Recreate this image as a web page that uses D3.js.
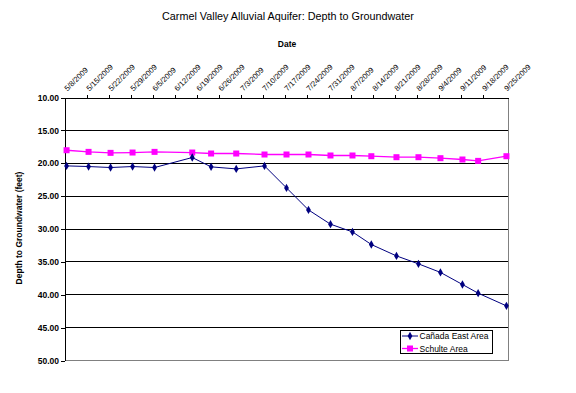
<!DOCTYPE html>
<html>
<head>
<meta charset="utf-8">
<script src="https://cdn.jsdelivr.net/npm/d3@7"></script>
<style>
  html, body { margin: 0; padding: 0; background: #fff; }
  svg { display: block; font-family: "Liberation Sans", Arial, sans-serif; }
</style>
</head>
<body>
<svg id="chart" width="576" height="393"></svg>
<script>
const dates = ["2009-05-08","2009-05-15","2009-05-22","2009-05-29","2009-06-05","2009-06-17","2009-06-23","2009-07-01","2009-07-10","2009-07-17","2009-07-24","2009-07-31","2009-08-07","2009-08-13","2009-08-21","2009-08-28","2009-09-04","2009-09-11","2009-09-16","2009-09-25"];
const canadaEast = [20.40,20.50,20.65,20.50,20.65,19.13,20.55,20.86,20.40,23.75,27.10,29.27,30.44,32.36,34.09,35.30,36.60,38.44,39.76,41.69];
const schulte = [18.02,18.27,18.42,18.37,18.27,18.37,18.52,18.52,18.67,18.67,18.67,18.82,18.82,18.93,19.08,19.08,19.23,19.43,19.64,18.93];
const tickDates = ["2009-05-08","2009-05-15","2009-05-22","2009-05-29","2009-06-05","2009-06-12","2009-06-19","2009-06-26","2009-07-03","2009-07-10","2009-07-17","2009-07-24","2009-07-31","2009-08-07","2009-08-14","2009-08-21","2009-08-28","2009-09-04","2009-09-11","2009-09-18","2009-09-25"];
const yTicks = [10,15,20,25,30,35,40,45,50];
const seriesNames = ["Cañada East Area","Schulte Area"];

const parse = d3.utcParse("%Y-%m-%d");
const fmt = d => (d.getUTCMonth()+1) + "/" + d.getUTCDate() + "/" + d.getUTCFullYear();
const half = 12*3600*1000;

const L = 65, R = 508, T = 97.5, B = 360.5;
const x = d3.scaleUtc().domain([parse("2009-05-08"), parse("2009-09-26")]).range([L, R]);
const y = d3.scaleLinear().domain([10, 50]).range([T, B]);

const svg = d3.select("#chart");

// title
svg.append("text").attr("x", 288).attr("y", 20).attr("text-anchor", "middle")
  .attr("font-size", 10.8).attr("fill", "#000")
  .text("Carmel Valley Alluvial Aquifer: Depth to Groundwater");
svg.append("text").attr("x", 287).attr("y", 47).attr("text-anchor", "middle")
  .attr("font-size", 8.5).attr("font-weight", "bold").attr("fill", "#000").text("Date");

// gridlines
svg.append("g").selectAll("line").data(yTicks.filter(v => v > 10 && v < 50)).join("line")
  .attr("x1", L).attr("x2", R).attr("y1", d => y(d)).attr("y2", d => y(d))
  .attr("stroke", "#000").attr("stroke-width", 1).attr("shape-rendering", "crispEdges");

// plot border right/bottom
svg.append("line").attr("x1", R).attr("x2", R).attr("y1", T).attr("y2", B)
  .attr("stroke", "#808080").attr("shape-rendering", "crispEdges");
svg.append("line").attr("x1", L).attr("x2", R).attr("y1", B).attr("y2", B)
  .attr("stroke", "#808080").attr("shape-rendering", "crispEdges");

// y axis
const yAxis = svg.append("g").attr("transform", `translate(${L},0)`)
  .call(d3.axisLeft(y).tickValues(yTicks).tickFormat(d3.format(".2f")).tickSize(4).tickSizeOuter(0));
yAxis.select(".domain").attr("stroke", "#000").attr("shape-rendering", "crispEdges");
yAxis.selectAll(".tick line").attr("stroke", "#000").attr("shape-rendering", "crispEdges");
yAxis.selectAll(".tick text").attr("font-size", 8.5).attr("font-weight", "bold")
  .attr("font-family", "Liberation Sans, Arial, sans-serif").attr("fill", "#000").attr("x", -6);

// x axis (top)
const tds = tickDates.map(parse);
const xAxis = svg.append("g").attr("transform", `translate(0,${T})`)
  .call(d3.axisTop(x).tickValues(tds).tickFormat(fmt).tickSize(3).tickSizeOuter(0));
xAxis.select(".domain").attr("stroke", "#000").attr("shape-rendering", "crispEdges");
xAxis.selectAll(".tick line").attr("stroke", "#000").attr("shape-rendering", "crispEdges")
  .attr("opacity", (d, i) => (i === 0 || i === tds.length - 1) ? 0 : 1);
xAxis.selectAll(".tick text")
  .attr("font-size", 7.6).attr("font-family", "Liberation Sans, Arial, sans-serif").attr("fill", "#000")
  .attr("text-anchor", "start").attr("x", 0).attr("y", 0).attr("dy", 0)
  .attr("transform", "translate(2,-6) rotate(-45)");

// y axis title
svg.append("text").attr("transform", "translate(22,228) rotate(-90)").attr("text-anchor", "middle")
  .attr("font-size", 8.5).attr("font-weight", "bold").attr("fill", "#000")
  .text("Depth to Groundwater (feet)");

const px = d => x(new Date(parse(d).getTime() + half));
const line = d3.line().x(d => px(d.date)).y(d => y(d.v));

const ce = dates.map((d, i) => ({date: d, v: canadaEast[i]}));
const sc = dates.map((d, i) => ({date: d, v: schulte[i]}));

const navy = "#000080", mag = "#FF00FF";

svg.append("path").datum(sc).attr("d", line).attr("fill", "none").attr("stroke", mag).attr("stroke-width", 1.3);
svg.append("g").selectAll("rect").data(sc).join("rect")
  .attr("x", d => px(d.date) - 3).attr("y", d => y(d.v) - 3).attr("width", 6).attr("height", 6).attr("fill", mag);

svg.append("path").datum(ce).attr("d", line).attr("fill", "none").attr("stroke", navy).attr("stroke-width", 1);
const diamond = d3.symbol().type(d3.symbolDiamond).size(20);
svg.append("g").selectAll("path").data(ce).join("path")
  .attr("transform", d => `translate(${px(d.date)},${y(d.v)})`).attr("d", diamond).attr("fill", navy);

// legend
const lg = svg.append("g");
lg.append("rect").attr("x", 400.5).attr("y", 330.5).attr("width", 92).attr("height", 23)
  .attr("fill", "#fff").attr("stroke", "#000").attr("stroke-width", 1);
const items = [{name: seriesNames[0], c: navy, t: "d", yy: 336}, {name: seriesNames[1], c: mag, t: "s", yy: 348.5}];
items.forEach(it => {
  lg.append("line").attr("x1", 402).attr("x2", 418).attr("y1", it.yy).attr("y2", it.yy)
    .attr("stroke", it.c).attr("stroke-width", it.t === "s" ? 1.3 : 1);
  if (it.t === "d") lg.append("path").attr("transform", `translate(410,${it.yy})`).attr("d", diamond).attr("fill", it.c);
  else lg.append("rect").attr("x", 407).attr("y", it.yy - 3).attr("width", 6).attr("height", 6).attr("fill", it.c);
  lg.append("text").attr("x", 419.5).attr("y", it.yy + 3).attr("font-size", 8.5).attr("fill", "#000").text(it.name);
});
</script>
</body>
</html>
